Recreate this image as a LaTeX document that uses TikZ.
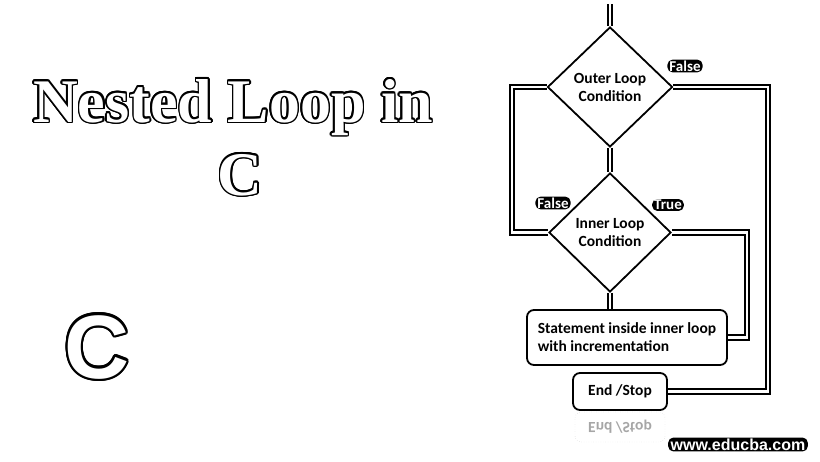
\documentclass[tikz,border=0pt]{standalone}
\usepackage{fontspec}
\setmainfont{Liberation Serif}
\newfontfamily\flowfont{Carlito}
\newfontfamily\logofont{Liberation Sans}
\usepackage{contour}
\usetikzlibrary{shapes.geometric,calc,backgrounds}
\tikzset{
  cond/.style={diamond, draw=black, line width=1.8pt, fill=white, minimum width=125pt, minimum height=120pt, inner sep=0pt, align=center, font=\flowfont\bfseries\fontsize{15.5}{18}\selectfont},
  procbox/.style={draw=black, line width=1.8pt, rounded corners=7pt, fill=white, font=\flowfont\bfseries\fontsize{15.5}{18}\selectfont},
  conn/.style={draw=black, line width=1.9pt, double=white, double distance=2.6pt},
  tag/.style={fill=black, text=white, rounded corners=5pt, inner xsep=2pt, inner ysep=1pt, font=\flowfont\bfseries\fontsize{15}{16}\selectfont},
  brand/.style={fill=black, text=white, rounded corners=5pt, inner xsep=2.5pt, inner ysep=1pt, font=\logofont\bfseries\fontsize{16}{17}\selectfont},
  titletext/.style={inner sep=0pt, anchor=base, font=\bfseries\fontsize{62}{70}\selectfont},
}
\begin{document}
\begin{tikzpicture}[x=1pt,y=-1pt]
\useasboundingbox (0,0) rectangle (820,461);
% title
\contourlength{1.5pt}
\node[titletext] (t1) at (233,122) {\textcolor{white}{\contour{black}{Nested Loop in}}};
\node[titletext] (t2) at (240,195) {\textcolor{white}{\contour{black}{C}}};
\contourlength{2.4pt}
\node[inner sep=0pt, anchor=base, font=\logofont\bfseries\fontsize{90}{96}\selectfont] (bigc) at (97,378) {\textcolor{white}{\contour{black}{C}}};
% flowchart nodes
\coordinate (entry) at (610,4);
\node[cond] (outer) at (610,87) {Outer Loop\\Condition};
\node[cond, minimum width=122pt, minimum height=119pt] (inner) at (610,232.5) {Inner Loop\\Condition};
\node[procbox, minimum width=200pt, minimum height=55pt, align=left] (stmt) at (627,337.5) {Statement inside inner loop\\with incrementation};
\node[procbox, minimum width=94pt, minimum height=37pt] (stop) at (620,391.5) {End /Stop};
\node[draw=gray!45, dotted, rounded corners=6pt, minimum width=90pt, minimum height=30pt, text=gray!70, font=\flowfont\bfseries\fontsize{15.5}{18}\selectfont] (refl) at (620,427) {\scalebox{1}[-1]{End /Stop}};
\coordinate (oR) at (768,87);
\coordinate (iR) at (747,232.5);
\coordinate (iL) at (512,232.5);
% connectors
\begin{scope}[on background layer]
\draw[conn] (entry) -- (outer.north);
\draw[conn] (outer.south) -- (inner.north);
\draw[conn] (inner.south) -- (inner.south |- stmt.north);
\draw[conn] (outer.east) -- (oR) |- (stop.east);
\draw[conn] (stmt.east) -| (iR) -- (inner.east);
\draw[conn] (inner.west) -- (iL) |- (outer.west);
\end{scope}
% labels
\node[tag] (lf1) at (685,66) {False};
\node[tag] (lf2) at (553,203) {False};
\node[tag] (lt) at (668,205) {True};
\node[brand] (web) at (738,444.5) {www.educba.com};
\end{tikzpicture}
\end{document}
